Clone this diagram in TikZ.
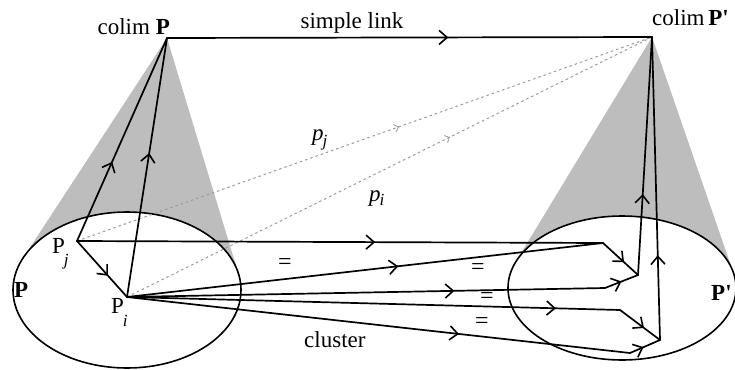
\documentclass[tikz,border=0pt]{standalone}
\usepackage{fontspec}
\setmainfont{Liberation Serif}
\usetikzlibrary{arrows.meta,decorations.markings}
\begin{document}
\begin{tikzpicture}[x=1pt,y=-1pt,
  lbl/.style={font=\fontsize{23}{27}\selectfont, inner sep=0pt},
  eqs/.style={font=\fontsize{24}{28}\selectfont, inner sep=0pt},
  ln/.style={line width=1.7pt, line cap=round, line join=round},
  arr/.style={ln, postaction={decorate}, decoration={markings, mark=at position #1 with {\arrow{Straight Barb[length=8pt,width=14pt,line width=1.6pt]}}}},
  dotl/.style={black!40, line width=1pt, dash pattern=on 2.5pt off 3pt, postaction={decorate}, decoration={markings, mark=at position #1 with {\arrow{Straight Barb[length=4pt,width=8pt,line width=0.8pt]}}}},
  cone/.style={fill=black!26, draw=none},
  oval/.style={draw, line width=1.6pt, fill=white}]
\useasboundingbox (0,0) rectangle (735,369);
% key points
\coordinate (CP) at (167,38);
\coordinate (CQ) at (652,37);
\coordinate (Pj) at (77,241);
\coordinate (Pi) at (127,297);
\coordinate (K1) at (603,243);
\coordinate (K2) at (605,288);
\coordinate (K3) at (620,310);
\coordinate (K4) at (630,353);
\coordinate (V1) at (638,275);
\coordinate (V2) at (660,340);
\coordinate (EL) at (127,290);
\coordinate (ER) at (622,288);
\coordinate (TL1) at (23,258.2);
\coordinate (TL2) at (238.6,274.2);
\coordinate (TR1) at (515.5,262.3);
\coordinate (TR2) at (733.4,272.7);
% cones
\fill[cone] (CP) -- (TL1) -- (EL) -- (TL2) -- cycle;
\fill[cone] (CQ) -- (TR1) -- (ER) -- (TR2) -- cycle;
% ellipses
\path[oval] (EL) ellipse [x radius=114pt, y radius=78pt];
\path[oval] (ER) ellipse [x radius=114pt, y radius=72pt];
% dotted links
\draw[dotl=0.56] (Pj) -- (CQ);
\draw[dotl=0.615] (Pi) -- (CQ);
% solid links
\draw[arr=0.58] (CP) -- (CQ);
\draw[arr=0.39] (Pj) -- (CP);
\draw[arr=0.556] (Pi) -- (CP);
\draw[arr=0.62] (Pj) -- (Pi);
\draw[arr=0.567] (Pj) -- (K1);
\draw[arr=0.57] (Pi) -- (K1);
\draw[arr=0.6] (K1) -- (V1);
\draw[arr=0.685] (Pi) -- (K2);
\draw[arr=0.5] (K2) -- (V1);
\draw[arr=0.87] (Pi) -- (K3);
\draw[arr=0.6] (K3) -- (V2);
\draw[arr=0.66] (Pi) -- (K4);
\draw[arr=0.45] (K4) -- (V2);
\draw[arr=0.34] (V1) -- (CQ);
\draw[arr=0.28] (V2) -- (CQ);
% labels
\node[lbl, anchor=base east] (lcp) at (170,35) {colim \textbf{P}};
\node[lbl, anchor=base west] (lcq) at (652,26) {colim\,\textbf{P\textquotesingle}};
\node[lbl, anchor=base] (lsl) at (352,29) {simple link};
\node[lbl, anchor=base west] (lP) at (14,297) {\textbf{P}};
\node[lbl, anchor=base west] (lQ) at (711,300) {\textbf{P\textquotesingle}};
\node[lbl, anchor=base west] (lPj) at (52,253) {P\kern-1pt\raisebox{-12pt}{\fontsize{17}{17}\selectfont\itshape j}};
\node[lbl, anchor=base west] (lPi) at (111,313) {P\kern-1pt\raisebox{-13pt}{\fontsize{17}{17}\selectfont\itshape i}};
\node[lbl, anchor=base west] (lpj) at (312,140) {\itshape p\kern-1pt\raisebox{-6pt}{\fontsize{17}{17}\selectfont j}};
\node[lbl, anchor=base west] (lpi) at (369,201) {\itshape p\kern-1pt\raisebox{-4pt}{\fontsize{17}{17}\selectfont i}};
\node[lbl, anchor=base west] (lcl) at (304,347) {cluster};
\node[eqs] (e1) at (285,264) {=};
\node[eqs] (e2) at (478,269) {=};
\node[eqs] (e3) at (487,298) {=};
\node[eqs] (e4) at (482,323) {=};
\end{tikzpicture}
\end{document}
